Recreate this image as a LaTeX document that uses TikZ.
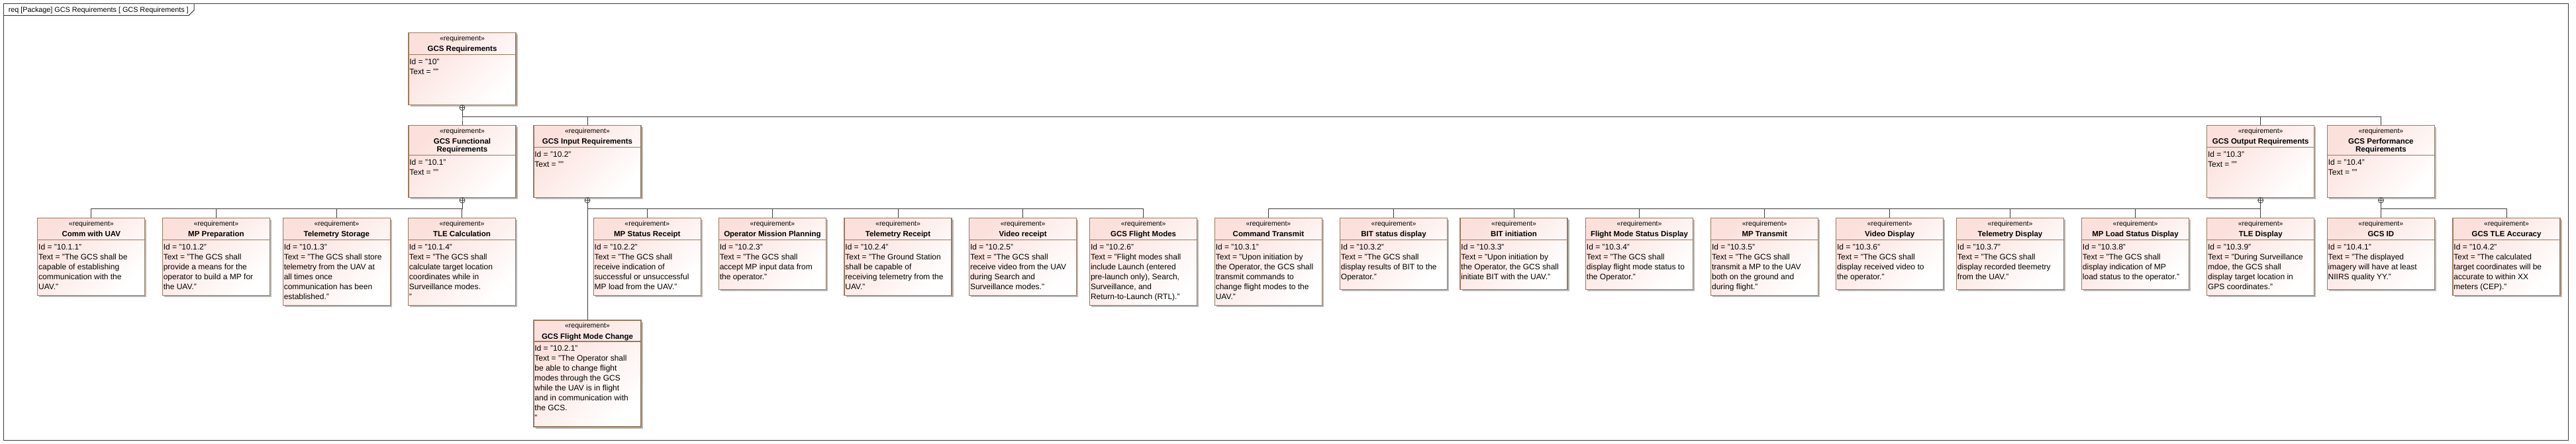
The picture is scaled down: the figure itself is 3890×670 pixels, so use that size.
\documentclass[tikz,border=0pt]{standalone}
\usepackage{fontspec}
\setmainfont{Liberation Sans}
\usetikzlibrary{calc,shadows}
\definecolor{reqpink}{RGB}{251,224,219}
\definecolor{reqborder}{RGB}{152,122,94}
\definecolor{connc}{RGB}{60,60,60}
\definecolor{shadowc}{RGB}{185,185,185}
\tikzset{
 reqbox/.style={draw=reqborder, line width=1.1pt, top color=reqpink, bottom color=white, shading angle=45, minimum width=162pt, inner sep=0pt, outer sep=0pt, anchor=north west, general shadow={fill=shadowc, shadow xshift=2.6pt, shadow yshift=-2.6pt}},
 stereo/.style={font=\fontsize{10.5}{12}\selectfont, anchor=base, inner sep=0pt},
 rname/.style={font=\bfseries\fontsize{11.5}{12}\selectfont, align=center, anchor=north, inner sep=0pt},
 rbody/.style={font=\fontsize{12}{15}\selectfont, align=left, anchor=north west, inner sep=0pt},
 reqsep/.style={draw=reqborder, line width=1.1pt},
 conn/.style={draw=connc, line width=1pt},
 cplus/.style={circle, draw=connc, line width=0.8pt, minimum size=8pt, inner sep=0pt, fill=white},
 frameline/.style={draw=connc, line width=1pt},
 framebox/.style={draw=connc, line width=1pt, anchor=north west, inner sep=0pt, outer sep=0pt, minimum width=3873pt, minimum height=660pt},
 titletext/.style={font=\fontsize{10.8}{12}\selectfont, anchor=base west, inner sep=0pt}
}
% #1 name, #2 x, #3 y top, #4 height, #5 header height, #6 title, #7 body
\newcommand\reqbox[7]{%
  \node[reqbox, minimum height=#4pt] (#1) at (#2,#3) {};
  \node[stereo] (#1-s) at ($(#1.north)+(0,11.7)$) {«requirement»};
  \node[rname] (#1-n) at ($(#1.north)+(0,19.5)$) {\strut #6};
  \draw[reqsep] ($(#1.north west)+(0,#5)$) -- ($(#1.north east)+(0,#5)$);
  \node[rbody] (#1-b) at ($(#1.north west)+(1.2,#5+4)$) {\strut #7};
}
\newcommand\reqplus[1]{%
  \node[cplus] (#1-c) at ($(#1.south)+(0,4.5)$) {};
  \draw[connc, line width=0.8pt] (#1-c.north) -- (#1-c.south) (#1-c.west) -- (#1-c.east);
}
\begin{document}
\begin{tikzpicture}[x=1pt,y=-1pt]
\useasboundingbox (0,0) rectangle (3890,670);
\node[framebox] (frame) at (5,5) {};
\draw[frameline] ($(frame.north west)+(0,18.3)$) -- ++(280,0) -- ++(8,-8) -- ++(0,-10.3);
\node[titletext] (title) at (12.6,18.5) {req [Package] GCS Requirements [ GCS Requirements ]};

\coordinate (bus0) at (0,176.7);
\coordinate (bus1) at (0,315.5);

% level 0
\reqbox{root}{617}{49.3}{109}{33}{GCS Requirements}{Id = "10"\\Text = ""}
% level 1
\reqbox{func}{617}{189.3}{109}{45}{GCS Functional\\Requirements}{Id = "10.1"\\Text = ""}
\reqbox{input}{806}{189.3}{109}{33}{GCS Input Requirements}{Id = "10.2"\\Text = ""}
\reqbox{output}{3332.7}{189.3}{109}{33}{GCS Output Requirements}{Id = "10.3"\\Text = ""}
\reqbox{perf}{3514.4}{189.3}{109}{45}{GCS Performance\\Requirements}{Id = "10.4"\\Text = ""}

% functional children
\reqbox{comm}{56.8}{329.3}{117.4}{33}{Comm with UAV}{Id = "10.1.1"\\Text = "The GCS shall be\\capable of establishing\\communication with the\\UAV."}
\reqbox{mpprep}{245.4}{329.3}{117.4}{33}{MP Preparation}{Id = "10.1.2"\\Text = "The GCS shall\\provide a means for the\\operator to build a MP for\\the UAV."}
\reqbox{telstor}{427.4}{329.3}{132.4}{33}{Telemetry Storage}{Id = "10.1.3"\\Text = "The GCS shall store\\telemetry from the UAV at\\all times once\\communication has been\\established."}
\reqbox{tlecalc}{616.5}{329.3}{132.4}{33}{TLE Calculation}{Id = "10.1.4"\\Text = "The GCS shall\\calculate target location\\coordinates while in\\Surveillance modes.\\"}

% input children
\reqbox{mpsr}{896.3}{329.3}{117.4}{33}{MP Status Receipt}{Id = "10.2.2"\\Text = "The GCS shall\\receive indication of\\successful or unsuccessful\\MP load from the UAV."}
\reqbox{omp}{1085.4}{329.3}{108.4}{33}{Operator Mission Planning}{Id = "10.2.3"\\Text = "The GCS shall\\accept MP input data from\\the operator."}
\reqbox{telrec}{1275}{329.3}{117.4}{33}{Telemetry Receipt}{Id = "10.2.4"\\Text = "The Ground Station\\shall be capable of\\receiving telemetry from the\\UAV."}
\reqbox{vidrec}{1463.6}{329.3}{117.4}{33}{Video receipt}{Id = "10.2.5"\\Text = "The GCS shall\\receive video from the UAV\\during Search and\\Surveillance modes."}
\reqbox{fmodes}{1645.6}{329.3}{132.4}{33}{GCS Flight Modes}{Id = "10.2.6"\\Text = "Flight modes shall\\include Launch (entered\\pre-launch only), Search,\\Surveillance, and\\Return-to-Launch (RTL)."}
\reqbox{fmc}{806}{484}{161}{32}{GCS Flight Mode Change}{Id = "10.2.1"\\Text = "The Operator shall\\be able to change flight\\modes through the GCS\\while the UAV is in flight\\and in communication with\\the GCS.\\"}

% output children
\reqbox{cmdtx}{1834.4}{329.3}{132.4}{33}{Command Transmit}{Id = "10.3.1"\\Text = "Upon initiation by\\the Operator, the GCS shall\\transmit commands to\\change flight modes to the\\UAV."}
\reqbox{bitstat}{2023.5}{329.3}{108.4}{33}{BIT status display}{Id = "10.3.2"\\Text = "The GCS shall\\display results of BIT to the\\Operator."}
\reqbox{bitinit}{2205}{329.3}{108.4}{33}{BIT initiation}{Id = "10.3.3"\\Text = "Upon initiation by\\the Operator, the GCS shall\\initiate BIT with the UAV."}
\reqbox{fmsd}{2394.5}{329.3}{108.4}{33}{Flight Mode Status Display}{Id = "10.3.4"\\Text = "The GCS shall\\display flight mode status to\\the Operator."}
\reqbox{mptx}{2583.7}{329.3}{117.4}{33}{MP Transmit}{Id = "10.3.5"\\Text = "The GCS shall\\transmit a MP to the UAV\\both on the ground and\\during flight."}
\reqbox{viddisp}{2772.7}{329.3}{108.4}{33}{Video Display}{Id = "10.3.6"\\Text = "The GCS shall\\display received video to\\the operator."}
\reqbox{teldisp}{2954.5}{329.3}{108.4}{33}{Telemetry Display}{Id = "10.3.7"\\Text = "The GCS shall\\display recorded tleemetry\\from the UAV."}
\reqbox{mpload}{3143.5}{329.3}{108.4}{33}{MP Load Status Display}{Id = "10.3.8"\\Text = "The GCS shall\\display indication of MP\\load status to the operator."}
\reqbox{tledisp}{3332.7}{329.3}{117.4}{33}{TLE Display}{Id = "10.3.9"\\Text = "During Surveillance\\mdoe, the GCS shall\\display target location in\\GPS coordinates."}

% performance children
\reqbox{gcsid}{3514.3}{329.3}{108.4}{33}{GCS ID}{Id = "10.4.1"\\Text = "The displayed\\imagery will have at least\\NIIRS quality YY."}
\reqbox{tleacc}{3704}{329.3}{117.4}{33}{GCS TLE Accuracy}{Id = "10.4.2"\\Text = "The calculated\\target coordinates will be\\accurate to within XX\\meters (CEP)."}

% containment symbols
\reqplus{root}
\reqplus{func}
\reqplus{input}
\reqplus{output}
\reqplus{perf}

% connectors
\foreach \ch in {func,input,output,perf}
  \draw[conn] (root-c.south) -- (root-c.south |- bus0) -| (\ch.north);
\foreach \ch in {comm,mpprep,telstor,tlecalc}
  \draw[conn] (func-c.south) -- (func-c.south |- bus1) -| (\ch.north);
\foreach \ch in {mpsr,omp,telrec,vidrec,fmodes}
  \draw[conn] (input-c.south) -- (input-c.south |- bus1) -| (\ch.north);
\draw[conn] (input-c.south) -- (fmc.north);
\foreach \ch in {cmdtx,bitstat,bitinit,fmsd,mptx,viddisp,teldisp,mpload,tledisp}
  \draw[conn] (output-c.south) -- (output-c.south |- bus1) -| (\ch.north);
\foreach \ch in {gcsid,tleacc}
  \draw[conn] (perf-c.south) -- (perf-c.south |- bus1) -| (\ch.north);
\end{tikzpicture}
\end{document}
